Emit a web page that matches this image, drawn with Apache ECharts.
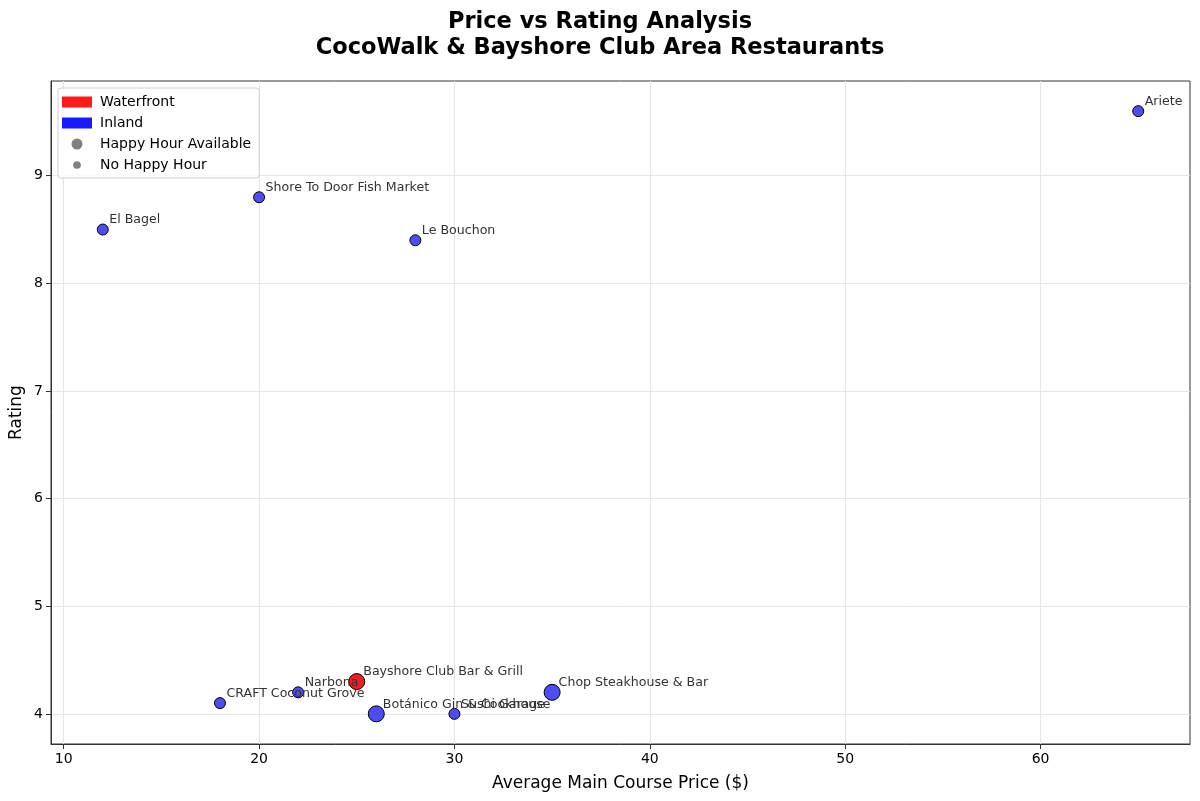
<!DOCTYPE html>
<html>
<head>
<meta charset="utf-8">
<script src="https://cdn.jsdelivr.net/npm/echarts@6/dist/echarts.min.js"></script>
<style>
  html, body { margin: 0; padding: 0; background: #fff; }
  #chart { width: 1200px; height: 801px; }
</style>
</head>
<body>
<div id="chart"></div>
<script>
// restaurant data
var names = ['El Bagel', 'Shore To Door Fish Market', 'Le Bouchon', 'Ariete', 'Bayshore Club Bar & Grill',
    'Narbona', 'CRAFT Coconut Grove', 'Botánico Gin & Cookhouse', 'Sushi Garage', 'Chop Steakhouse & Bar'];
var prices = [12, 20, 28, 65, 25, 22, 18, 26, 30, 35];
var ratings = [8.5, 8.8, 8.4, 9.6, 4.3, 4.2, 4.1, 4.0, 4.0, 4.2];
var waterfront = [false, false, false, false, true, false, false, false, false, false];
var happyHour = [false, false, false, false, true, false, false, true, false, true];

var xTicks = [10, 20, 30, 40, 50, 60];
var yTicks = [4, 5, 6, 7, 8, 9];

var font = 'DejaVu Sans';
var chart = echarts.init(document.getElementById('chart'));

function pointSeries(isWater, isHH) {
    var size = isHH ? 16 : 11;
    var data = [];
    for (var i = 0; i < names.length; i++) {
        if (waterfront[i] === isWater && happyHour[i] === isHH) {
            data.push([prices[i], ratings[i], names[i]]);
        }
    }
    return {
        type: 'scatter',
        name: 'pts' + (isWater ? 'W' : 'I') + (isHH ? 'H' : 'N'),
        data: data,
        symbolSize: size,
        z: isHH ? 3 : 4,
        itemStyle: {
            color: isWater ? 'rgb(240,30,30)' : 'rgb(77,77,245)',
            opacity: 1,
            borderColor: '#000',
            borderWidth: 1
        },
        label: {
            show: true,
            formatter: function(p) { return p.data[2]; },
            position: [size / 2 + 7, size / 2 - 2.5],
            align: 'left',
            verticalAlign: 'bottom',
            fontFamily: font,
            fontSize: 12.6,
            color: '#333'
        },
        emphasis: { disabled: true }
    };
}

function legendSeries(name, color) {
    return { type: 'scatter', name: name, data: [], itemStyle: { color: color, opacity: 1 } };
}

function axisCommon(ticks) {
    return {
        axisLine: { show: true, lineStyle: { color: '#333' } },
        axisTick: { show: true, length: 5, customValues: ticks, lineStyle: { color: '#333', width: 1 } },
        axisLabel: { fontFamily: font, fontSize: 14, color: '#000', margin: 8, customValues: ticks },
        splitLine: { show: true, lineStyle: { color: '#e6e6e6' } }
    };
}

var xAxis = Object.assign({
    type: 'value',
    min: 9.35,
    max: 67.65,
    name: 'Average Main Course Price ($)',
    nameLocation: 'middle',
    nameGap: 31,
    nameTextStyle: { fontFamily: font, fontSize: 17, color: '#000' }
}, axisCommon(xTicks));

var yAxis = Object.assign({
    type: 'value',
    min: 3.72,
    max: 9.88,
    name: 'Rating',
    nameLocation: 'middle',
    nameGap: 26,
    nameMoveOverlap: false,
    nameTextStyle: { fontFamily: font, fontSize: 17, color: '#000' }
}, axisCommon(yTicks));

var option = {
    animation: false,
    textStyle: { fontFamily: font },
    title: {
        text: 'Price vs Rating Analysis\nCocoWalk & Bayshore Club Area Restaurants',
        left: 'center',
        top: 4,
        textStyle: { fontFamily: font, fontSize: 22.5, fontWeight: 'bold', color: '#000', lineHeight: 26 }
    },
    legend: {
        orient: 'vertical',
        left: 58,
        top: 88,
        padding: [7, 8, 6, 4],
        itemGap: 7,
        itemWidth: 30,
        itemHeight: 11,
        borderColor: '#d0d0d0',
        borderWidth: 1,
        borderRadius: 3,
        backgroundColor: 'rgba(255,255,255,0.8)',
        textStyle: { fontFamily: font, fontSize: 14, color: '#000', padding: [0, 0, 0, 3] },
        data: [
            { name: 'Waterfront', icon: 'rect', itemStyle: { color: '#ff1a1a', opacity: 1 } },
            { name: 'Inland', icon: 'rect', itemStyle: { color: '#1a1aff', opacity: 1 } },
            { name: 'Happy Hour Available', icon: 'path://M-10,0 A10,10 0 1,0 10,0 A10,10 0 1,0 -10,0 Z M-27,-10 L-27,-9.99 M27,10 L27,9.99', itemStyle: { color: '#808080', opacity: 1 } },
            { name: 'No Happy Hour', icon: 'path://M-7,0 A7,7 0 1,0 7,0 A7,7 0 1,0 -7,0 Z M-27,-10 L-27,-9.99 M27,10 L27,9.99', itemStyle: { color: '#808080', opacity: 1 } }
        ],
        selectedMode: false
    },
    grid: {
        left: 51,
        right: 10,
        top: 81,
        bottom: 57,
        outerBoundsMode: 'none',
        show: true,
        borderColor: '#333',
        borderWidth: 1
    },
    xAxis: xAxis,
    yAxis: yAxis,
    series: [
        legendSeries('Waterfront', '#ff1a1a'),
        legendSeries('Inland', '#1a1aff'),
        legendSeries('Happy Hour Available', '#808080'),
        legendSeries('No Happy Hour', '#808080'),
        pointSeries(false, true),
        pointSeries(false, false),
        pointSeries(true, true)
    ]
};
chart.setOption(option);
</script>
</body>
</html>
